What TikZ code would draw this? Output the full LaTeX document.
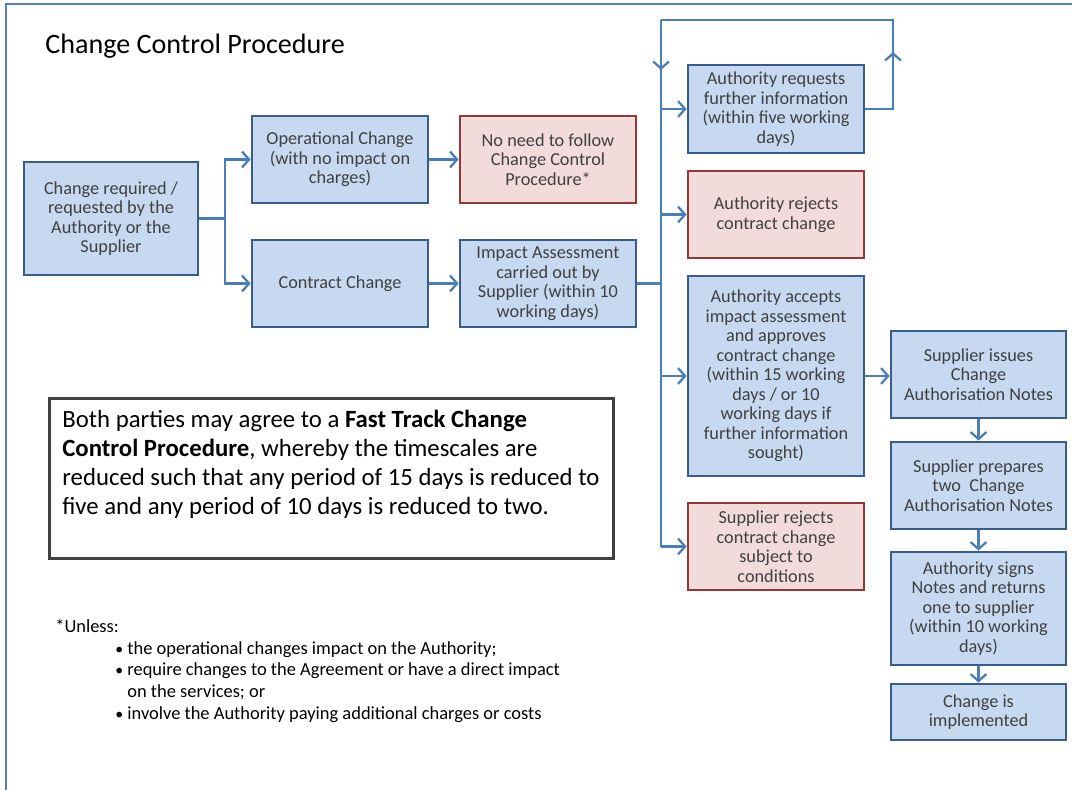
\documentclass[tikz,border=0pt]{standalone}
\usepackage{fontspec}
\setmainfont{Carlito}
\usetikzlibrary{arrows.meta}
\usetikzlibrary{calc}

\definecolor{boxblue}{RGB}{198,217,241}
\definecolor{edgeblue}{RGB}{56,93,138}
\definecolor{boxred}{RGB}{242,220,219}
\definecolor{edgered}{RGB}{149,55,53}
\definecolor{linkblue}{RGB}{74,126,187}
\definecolor{frameblue}{RGB}{79,129,189}
\definecolor{boxtext}{RGB}{64,64,64}

\tikzset{
  box/.style={draw=edgeblue, fill=boxblue, line width=1.6pt, text=boxtext,
    align=center, minimum width=3.52cm, minimum height=1.74cm, inner sep=2pt,
    font=\fontsize{10.4}{11.1}\selectfont},
  redbox/.style={box, draw=edgered, fill=boxred},
  link/.style={draw=linkblue, line width=1.3pt},
  flow/.style={link, -{Straight Barb[length=4pt, width=9pt]}},
}

\begin{document}
\begin{tikzpicture}[x=0.02cm, y=-0.02cm]
    \useasboundingbox (0,0) rectangle (1072,790);
    \draw[frameblue, line width=1.2pt] (6,800) -- (6,4) -- (1080,4);

    \node[anchor=base west, inner sep=0pt, font=\fontsize{16}{19}\selectfont] (title) at (45,54) {Change Control Procedure};

    % left part
    \node[box, minimum width=3.48cm, minimum height=2.26cm] (start) at (111,218.5) {Change required /\\requested by the\\Authority or the\\Supplier};
    \node[box] (op) at (340,159.5) {Operational Change\\(with no impact on\\charges)};
    \node[box] (contract) at (340,283.5) {Contract Change};
    \node[redbox] (noneed) at (548,159.5) {No need to follow\\Change Control\\Procedure*};
    \node[box] (impact) at (548,283.5) {Impact Assessment\\carried out by\\Supplier (within 10\\working days)};

    \coordinate (fork) at (225,218.5);
    \draw[link] (start.east) -- (fork);
    \draw[flow] (fork) |- (op.west);
    \draw[flow] (fork) |- (contract.west);
    \draw[flow] (op) -- (noneed);
    \draw[flow] (contract) -- (impact);

    % authority decisions
    \node[box, minimum height=1.76cm] (req) at (776,109) {Authority requests\\further information\\(within five working\\days)};
    \node[redbox] (rej) at (776,214.5) {Authority rejects\\contract change};
    \node[box, minimum height=4cm] (accept) at (776,376) {Authority accepts\\impact assessment\\and approves\\contract change\\(within 15 working\\days / or 10\\working days if\\further information\\sought)};
    \node[redbox] (suprej) at (776,546.5) {Supplier rejects\\contract change\\subject to\\conditions};

    \coordinate (trunk) at (661,283.5);
    \coordinate (looptop) at (661,20);
    \coordinate (loopR) at (893,20);
    \coordinate (trunkend) at (661,546.5);
    \draw[link] (impact.east) -- (trunk);
    \draw[link] (looptop) -- (trunkend);
    \foreach \n in {req,rej,accept,suprej}
        \draw[flow] (\n.west -| trunk) -- (\n.west);
    \draw[link] (req.east) -| (loopR) -- (looptop);
    \draw[flow] (req.east) -| ($(loopR)+(0,32)$);
    \draw[flow] (looptop) -- ++(0,50);

    % notes
    \node[box, minimum width=3.5cm] (issues) at (978.5,374.5) {Supplier issues\\Change\\Authorisation Notes};
    \node[box, minimum width=3.5cm] (prepares) at (978.5,485.5) {Supplier prepares\\two\ \ Change\\Authorisation Notes};
    \node[box, minimum width=3.5cm, minimum height=2.26cm] (signs) at (978.5,608.5) {Authority signs\\Notes and returns\\one to supplier\\(within 10 working\\days)};
    \node[box, minimum width=3.5cm, minimum height=1.12cm] (impl) at (978.5,712) {Change is\\implemented};

    \draw[flow] (accept.east) -- (accept.east -| issues.west);
    \draw[flow] (issues) -- (prepares);
    \draw[flow] (prepares) -- (signs);
    \draw[flow] (signs) -- (impl);

    % fast track
    \node[draw=boxtext, line width=1.8pt, fill=white, anchor=north west,
          minimum width=11.28cm, minimum height=3.2cm] (fast) at (48,397) {};
    \node[anchor=north west, align=left, inner sep=0pt,
          font=\fontsize{14.1}{16.4}\selectfont] (fasttext) at (62,410)
        {Both parties may agree to a \textbf{Fast Track Change}\\
         \textbf{Control Procedure}, whereby the timescales are\\
         reduced such that any period of 15 days is reduced to\\
         five and any period of 10 days is reduced to two.};

    % footnote
    \node[anchor=base west, inner sep=0pt, font=\fontsize{10.5}{12.4}\selectfont] (unless) at (55,632) {*Unless:};
    \node[anchor=north west, align=left, inner sep=0pt,
          font=\fontsize{10.5}{12.4}\selectfont] (conds) at (115,641)
        {{\small\textbullet}\ the operational changes impact on the Authority;\\
         {\small\textbullet}\ require changes to the Agreement or have a direct impact\\
         \hphantom{{\small\textbullet}\ }on the services; or\\
         {\small\textbullet}\ involve the Authority paying additional charges or costs};
\end{tikzpicture}
\end{document}
